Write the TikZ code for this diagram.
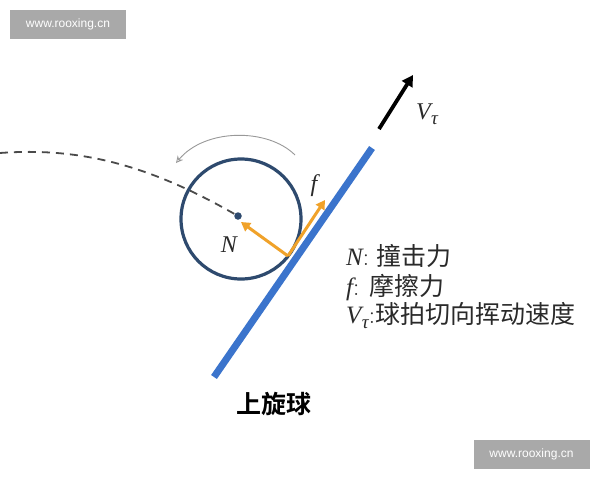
\documentclass[tikz,border=0pt]{standalone}
\usepackage{fontspec}
\setsansfont{Liberation Sans}
\newfontfamily\cjk{Noto Sans CJK SC}
\newfontfamily\cjkb{Noto Sans CJK SC Bold}
\newfontfamily\ser{Liberation Serif}
\usetikzlibrary{arrows.meta}
\definecolor{ballblue}{HTML}{2E4A6E}
\definecolor{racket}{HTML}{3B74CC}
\definecolor{force}{HTML}{F0A22A}
\definecolor{wmgrey}{HTML}{A9A9A9}
\definecolor{txt}{HTML}{2A2A2A}
\definecolor{dash}{HTML}{4A4A4A}
\newcommand{\vit}[1]{{\ser\itshape #1}}
\newcommand{\Vtau}{\vit{V}\kern0.02em\raisebox{-0.2em}{\fontsize{19}{19}\selectfont\vit{τ}}}
\tikzset{
  wm/.style={fill=wmgrey, text=white, font=\sffamily\fontsize{12}{12}\selectfont, minimum width=116pt, minimum height=29pt, inner sep=0pt},
  forcearrow/.style={draw=force, line width=3pt, -{Triangle[length=9pt,width=10pt]}},
  legend/.style={anchor=base west, text=txt, font=\fontsize{25}{25}\selectfont, inner sep=0pt},
  lbl/.style={text=txt, font=\fontsize{24}{24}\selectfont, inner sep=0pt}
}
\begin{document}
\begin{tikzpicture}[x=1pt,y=-1pt]
\useasboundingbox (0,0) rectangle (600,480);
\fill[white] (0,0) rectangle (600,480);
% watermarks
\node[wm] (wm1) at (68,24.5) {www.rooxing.cn};
\node[wm] (wm2) at (531.5,454.5) {www.rooxing.cn};
% trajectory
\coordinate (start) at (0,153);
\coordinate (ctr) at (241,219);
\node[circle, fill=ballblue, inner sep=0pt, minimum size=7.5pt] (dot) at (238,216) {};
\draw[draw=dash, line width=1.8pt, dash pattern=on 8pt off 6pt] (start) .. controls (80,147) and (150,165) .. (dot.center);
% ball
\node[circle, draw=ballblue, line width=3.2pt, minimum size=120pt, inner sep=0pt] (ball) at (ctr) {};
% rotation arc
\coordinate (arcS) at (295,155);
\coordinate (arcE) at (176,163);
\draw[draw=gray!80, line width=0.9pt, -{Stealth[open,length=7pt,width=7pt]}] (arcS) .. controls (268,128) and (205,128) .. (arcE);
% racket
\coordinate (rtop) at (372,148);
\coordinate (rbot) at (214,377);
\draw[draw=racket, line width=7pt] (rbot) -- (rtop);
% forces
\coordinate (contact) at (288,256);
\coordinate (Ntip) at (241,222);
\coordinate (ftip) at (325,200);
\draw[forcearrow] (contact) -- (Ntip);
\draw[forcearrow] (contact) -- (ftip);
\node[lbl] (Nlab) at (229,245) {\vit{N}};
\node[lbl] (flab) at (314,186) {\vit{f}};
% swing velocity
\coordinate (vS) at (379,129);
\coordinate (vE) at (413,75);
\draw[line width=3.8pt, -{Triangle[length=11pt,width=12pt]}] (vS) -- (vE);
\node[lbl] (Vlab) at (427,114) {\Vtau};
% legend
\node[legend] (l1) at (346,265) {\vit{N}: {\cjk 撞击力}};
\node[legend] (l2) at (346,295) {\vit{f}: {\cjk 摩擦力}};
\node[legend] (l3) at (346,323) {\Vtau:{\cjk 球拍切向挥动速度}};
% title
\node[text=black, font=\cjkb\fontsize{25}{25}\selectfont, inner sep=0pt] (title) at (274,404) {上旋球};
\end{tikzpicture}
\end{document}
